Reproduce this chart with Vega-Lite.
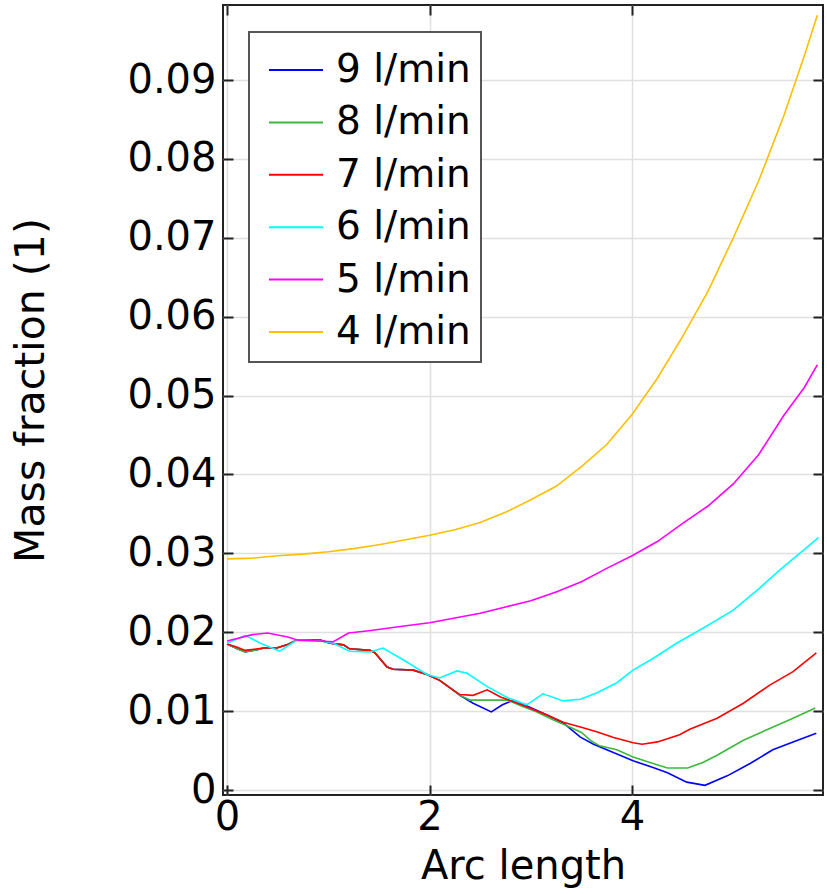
{
  "$schema": "https://vega.github.io/schema/vega-lite/v6.json",
  "width": 600,
  "height": 790,
  "autosize": "none",
  "padding": {"left": 223, "top": 5, "right": 4, "bottom": 99},
  "background": "white",
  "config": {
    "font": "DejaVu Sans",
    "view": {"stroke": "#222222", "strokeWidth": 2},
    "axis": {"domain": false, "labelColor": "black", "titleColor": "black", "tickColor": "#222222", "tickWidth": 2, "titleFontWeight": "normal"},
    "legend": {"strokeWidth": 2}
  },
  "data": {"values": [
    {"s":"9 l/min","x":0,"y":0.0185},{"s":"9 l/min","x":0.1,"y":0.0179},{"s":"9 l/min","x":0.18,"y":0.0175},{"s":"9 l/min","x":0.3,"y":0.0178},{"s":"9 l/min","x":0.36,"y":0.018},{"s":"9 l/min","x":0.49,"y":0.018},{"s":"9 l/min","x":0.59,"y":0.0184},{"s":"9 l/min","x":0.69,"y":0.019},{"s":"9 l/min","x":0.92,"y":0.019},{"s":"9 l/min","x":1.02,"y":0.0186},{"s":"9 l/min","x":1.15,"y":0.0184},{"s":"9 l/min","x":1.21,"y":0.0179},{"s":"9 l/min","x":1.41,"y":0.0177},{"s":"9 l/min","x":1.46,"y":0.0174},{"s":"9 l/min","x":1.58,"y":0.0156},{"s":"9 l/min","x":1.64,"y":0.0153},{"s":"9 l/min","x":1.84,"y":0.0152},{"s":"9 l/min","x":1.98,"y":0.0146},{"s":"9 l/min","x":2.1,"y":0.0139},{"s":"9 l/min","x":2.23,"y":0.0127},{"s":"9 l/min","x":2.3,"y":0.012},{"s":"9 l/min","x":2.43,"y":0.011},{"s":"9 l/min","x":2.61,"y":0.0099},{"s":"9 l/min","x":2.72,"y":0.0108},{"s":"9 l/min","x":2.83,"y":0.0114},{"s":"9 l/min","x":2.99,"y":0.0105},{"s":"9 l/min","x":3.16,"y":0.0095},{"s":"9 l/min","x":3.32,"y":0.0085},{"s":"9 l/min","x":3.49,"y":0.0067},{"s":"9 l/min","x":3.62,"y":0.0058},{"s":"9 l/min","x":3.75,"y":0.0051},{"s":"9 l/min","x":4.01,"y":0.0037},{"s":"9 l/min","x":4.2,"y":0.0029},{"s":"9 l/min","x":4.35,"y":0.0022},{"s":"9 l/min","x":4.54,"y":0.001},{"s":"9 l/min","x":4.72,"y":0.0006},{"s":"9 l/min","x":4.94,"y":0.0018},{"s":"9 l/min","x":5.17,"y":0.0034},{"s":"9 l/min","x":5.39,"y":0.0051},{"s":"9 l/min","x":5.59,"y":0.0061},{"s":"9 l/min","x":5.82,"y":0.0072},

    {"s":"8 l/min","x":0,"y":0.0185},{"s":"8 l/min","x":0.1,"y":0.0179},{"s":"8 l/min","x":0.18,"y":0.0175},{"s":"8 l/min","x":0.3,"y":0.0178},{"s":"8 l/min","x":0.36,"y":0.018},{"s":"8 l/min","x":0.49,"y":0.018},{"s":"8 l/min","x":0.59,"y":0.0184},{"s":"8 l/min","x":0.69,"y":0.019},{"s":"8 l/min","x":0.92,"y":0.019},{"s":"8 l/min","x":1.02,"y":0.0186},{"s":"8 l/min","x":1.15,"y":0.0184},{"s":"8 l/min","x":1.21,"y":0.0179},{"s":"8 l/min","x":1.41,"y":0.0177},{"s":"8 l/min","x":1.46,"y":0.0174},{"s":"8 l/min","x":1.58,"y":0.0156},{"s":"8 l/min","x":1.64,"y":0.0153},{"s":"8 l/min","x":1.84,"y":0.0152},{"s":"8 l/min","x":1.98,"y":0.0146},{"s":"8 l/min","x":2.1,"y":0.0139},{"s":"8 l/min","x":2.23,"y":0.0127},{"s":"8 l/min","x":2.3,"y":0.012},{"s":"8 l/min","x":2.4,"y":0.0114},{"s":"8 l/min","x":2.57,"y":0.0114},{"s":"8 l/min","x":2.77,"y":0.0114},{"s":"8 l/min","x":2.92,"y":0.0106},{"s":"8 l/min","x":3.06,"y":0.0099},{"s":"8 l/min","x":3.22,"y":0.0089},{"s":"8 l/min","x":3.4,"y":0.0079},{"s":"8 l/min","x":3.5,"y":0.0073},{"s":"8 l/min","x":3.59,"y":0.0063},{"s":"8 l/min","x":3.68,"y":0.0056},{"s":"8 l/min","x":3.85,"y":0.0051},{"s":"8 l/min","x":4.01,"y":0.0042},{"s":"8 l/min","x":4.2,"y":0.0034},{"s":"8 l/min","x":4.35,"y":0.0028},{"s":"8 l/min","x":4.55,"y":0.0028},{"s":"8 l/min","x":4.7,"y":0.0035},{"s":"8 l/min","x":4.84,"y":0.0044},{"s":"8 l/min","x":5.1,"y":0.0063},{"s":"8 l/min","x":5.36,"y":0.0078},{"s":"8 l/min","x":5.59,"y":0.0091},{"s":"8 l/min","x":5.81,"y":0.0104},

    {"s":"7 l/min","x":0,"y":0.0185},{"s":"7 l/min","x":0.1,"y":0.0181},{"s":"7 l/min","x":0.18,"y":0.0177},{"s":"7 l/min","x":0.36,"y":0.018},{"s":"7 l/min","x":0.49,"y":0.018},{"s":"7 l/min","x":0.59,"y":0.0184},{"s":"7 l/min","x":0.69,"y":0.019},{"s":"7 l/min","x":0.92,"y":0.019},{"s":"7 l/min","x":1.02,"y":0.0186},{"s":"7 l/min","x":1.15,"y":0.0184},{"s":"7 l/min","x":1.21,"y":0.0179},{"s":"7 l/min","x":1.41,"y":0.0177},{"s":"7 l/min","x":1.46,"y":0.0174},{"s":"7 l/min","x":1.58,"y":0.0156},{"s":"7 l/min","x":1.64,"y":0.0153},{"s":"7 l/min","x":1.84,"y":0.0152},{"s":"7 l/min","x":1.98,"y":0.0146},{"s":"7 l/min","x":2.1,"y":0.0139},{"s":"7 l/min","x":2.23,"y":0.0127},{"s":"7 l/min","x":2.3,"y":0.0121},{"s":"7 l/min","x":2.43,"y":0.012},{"s":"7 l/min","x":2.57,"y":0.0127},{"s":"7 l/min","x":2.7,"y":0.0118},{"s":"7 l/min","x":2.83,"y":0.0112},{"s":"7 l/min","x":2.99,"y":0.0104},{"s":"7 l/min","x":3.16,"y":0.0095},{"s":"7 l/min","x":3.32,"y":0.0086},{"s":"7 l/min","x":3.49,"y":0.008},{"s":"7 l/min","x":3.65,"y":0.0074},{"s":"7 l/min","x":3.81,"y":0.0067},{"s":"7 l/min","x":4.01,"y":0.006},{"s":"7 l/min","x":4.1,"y":0.0058},{"s":"7 l/min","x":4.25,"y":0.0061},{"s":"7 l/min","x":4.47,"y":0.007},{"s":"7 l/min","x":4.57,"y":0.0077},{"s":"7 l/min","x":4.84,"y":0.0091},{"s":"7 l/min","x":5.1,"y":0.011},{"s":"7 l/min","x":5.36,"y":0.0133},{"s":"7 l/min","x":5.59,"y":0.015},{"s":"7 l/min","x":5.82,"y":0.0174},

    {"s":"6 l/min","x":0,"y":0.0186},{"s":"6 l/min","x":0.18,"y":0.0196},{"s":"6 l/min","x":0.33,"y":0.0186},{"s":"6 l/min","x":0.52,"y":0.0176},{"s":"6 l/min","x":0.69,"y":0.019},{"s":"6 l/min","x":0.92,"y":0.0189},{"s":"6 l/min","x":1.05,"y":0.0186},{"s":"6 l/min","x":1.21,"y":0.0176},{"s":"6 l/min","x":1.41,"y":0.0175},{"s":"6 l/min","x":1.54,"y":0.018},{"s":"6 l/min","x":1.78,"y":0.0162},{"s":"6 l/min","x":1.98,"y":0.0146},{"s":"6 l/min","x":2.1,"y":0.0142},{"s":"6 l/min","x":2.27,"y":0.0151},{"s":"6 l/min","x":2.37,"y":0.0148},{"s":"6 l/min","x":2.57,"y":0.0131},{"s":"6 l/min","x":2.77,"y":0.0117},{"s":"6 l/min","x":2.96,"y":0.0108},{"s":"6 l/min","x":3.12,"y":0.0122},{"s":"6 l/min","x":3.32,"y":0.0113},{"s":"6 l/min","x":3.49,"y":0.0115},{"s":"6 l/min","x":3.65,"y":0.0123},{"s":"6 l/min","x":3.85,"y":0.0136},{"s":"6 l/min","x":4.01,"y":0.0152},{"s":"6 l/min","x":4.21,"y":0.0167},{"s":"6 l/min","x":4.44,"y":0.0186},{"s":"6 l/min","x":4.7,"y":0.0205},{"s":"6 l/min","x":5.0,"y":0.0228},{"s":"6 l/min","x":5.26,"y":0.0256},{"s":"6 l/min","x":5.46,"y":0.0279},{"s":"6 l/min","x":5.73,"y":0.0308},{"s":"6 l/min","x":5.84,"y":0.032},

    {"s":"5 l/min","x":0,"y":0.0189},{"s":"5 l/min","x":0.1,"y":0.0192},{"s":"5 l/min","x":0.25,"y":0.0197},{"s":"5 l/min","x":0.4,"y":0.0199},{"s":"5 l/min","x":0.6,"y":0.0194},{"s":"5 l/min","x":0.7,"y":0.019},{"s":"5 l/min","x":0.9,"y":0.0189},{"s":"5 l/min","x":1.05,"y":0.0188},{"s":"5 l/min","x":1.2,"y":0.0199},{"s":"5 l/min","x":1.4,"y":0.0202},{"s":"5 l/min","x":1.75,"y":0.0208},{"s":"5 l/min","x":2.0,"y":0.0212},{"s":"5 l/min","x":2.25,"y":0.0218},{"s":"5 l/min","x":2.5,"y":0.0224},{"s":"5 l/min","x":2.75,"y":0.0232},{"s":"5 l/min","x":3.0,"y":0.024},{"s":"5 l/min","x":3.25,"y":0.0251},{"s":"5 l/min","x":3.5,"y":0.0264},{"s":"5 l/min","x":3.75,"y":0.0281},{"s":"5 l/min","x":4.0,"y":0.0297},{"s":"5 l/min","x":4.25,"y":0.0315},{"s":"5 l/min","x":4.5,"y":0.0338},{"s":"5 l/min","x":4.75,"y":0.036},{"s":"5 l/min","x":5.0,"y":0.0388},{"s":"5 l/min","x":5.25,"y":0.0425},{"s":"5 l/min","x":5.5,"y":0.0475},{"s":"5 l/min","x":5.7,"y":0.051},{"s":"5 l/min","x":5.83,"y":0.0539},

    {"s":"4 l/min","x":0,"y":0.0293},{"s":"4 l/min","x":0.25,"y":0.0294},{"s":"4 l/min","x":0.5,"y":0.0297},{"s":"4 l/min","x":0.75,"y":0.0299},{"s":"4 l/min","x":1.0,"y":0.0302},{"s":"4 l/min","x":1.25,"y":0.0306},{"s":"4 l/min","x":1.5,"y":0.0311},{"s":"4 l/min","x":1.75,"y":0.0317},{"s":"4 l/min","x":2.0,"y":0.0323},{"s":"4 l/min","x":2.25,"y":0.033},{"s":"4 l/min","x":2.5,"y":0.0339},{"s":"4 l/min","x":2.75,"y":0.0352},{"s":"4 l/min","x":3.0,"y":0.0368},{"s":"4 l/min","x":3.25,"y":0.0385},{"s":"4 l/min","x":3.5,"y":0.041},{"s":"4 l/min","x":3.75,"y":0.0438},{"s":"4 l/min","x":4.0,"y":0.0476},{"s":"4 l/min","x":4.25,"y":0.0522},{"s":"4 l/min","x":4.5,"y":0.0575},{"s":"4 l/min","x":4.75,"y":0.0632},{"s":"4 l/min","x":5.0,"y":0.07},{"s":"4 l/min","x":5.25,"y":0.0772},{"s":"4 l/min","x":5.5,"y":0.0855},{"s":"4 l/min","x":5.7,"y":0.093},{"s":"4 l/min","x":5.83,"y":0.0982}
  ]},
  "layer": [
    {
      "mark": {"type": "line", "strokeWidth": 1.6, "clip": true},
      "encoding": {
        "x": {"field": "x", "type": "quantitative",
          "scale": {"domain": [-0.04, 5.886], "nice": false, "zero": false},
          "axis": {"orient": "bottom", "values": [0, 2, 4], "title": "Arc length", "labelFontSize": 40, "titleFontSize": 40,
            "grid": true, "gridColor": "#e0e0e0", "gridWidth": 1.5, "tickSize": -10, "labelPadding": 12,
            "titleBaseline": "alphabetic", "titleY": 83}},
        "y": {"field": "y", "type": "quantitative",
          "scale": {"domain": [-0.00063, 0.09951], "nice": false, "zero": false},
          "axis": {"orient": "left", "values": [0, 0.01, 0.02, 0.03, 0.04, 0.05, 0.06, 0.07, 0.08, 0.09], "format": ".2~f",
            "title": "Mass fraction (1)", "labelFontSize": 40, "titleFontSize": 41,
            "grid": true, "gridColor": "#e0e0e0", "gridWidth": 1.5, "tickSize": -10, "labelPadding": 17,
            "titleAngle": -90, "titleBaseline": "middle", "titleX": -192, "titleY": 385}},
        "color": {"field": "s", "type": "nominal",
          "scale": {"domain": ["9 l/min", "8 l/min", "7 l/min", "6 l/min", "5 l/min", "4 l/min"],
            "range": ["#0000ff", "#3cb83c", "#ff0000", "#00ffff", "#ff00ff", "#ffbf00"]},
          "legend": {"orient": "none", "legendX": 26, "legendY": 27, "title": null,
            "fillColor": "white", "strokeColor": "#555555", "padding": 10, "symbolOffset": 9,
            "symbolType": "stroke", "symbolSize": 2916, "symbolStrokeWidth": 2, "labelFontSize": 39,
            "labelColor": "black", "labelOffset": 12, "rowPadding": 4.4, "labelLimit": 300}}
      }
    },
    {
      "mark": {"type": "point", "opacity": 0},
      "encoding": {
        "x": {"field": "x", "type": "quantitative",
          "axis": {"orient": "top", "values": [0, 2, 4], "labels": false, "title": null, "grid": false, "tickSize": -10}},
        "y": {"field": "y", "type": "quantitative",
          "axis": {"orient": "right", "values": [0, 0.01, 0.02, 0.03, 0.04, 0.05, 0.06, 0.07, 0.08, 0.09], "labels": false, "title": null, "grid": false, "tickSize": -10}}
      }
    }
  ]
}
